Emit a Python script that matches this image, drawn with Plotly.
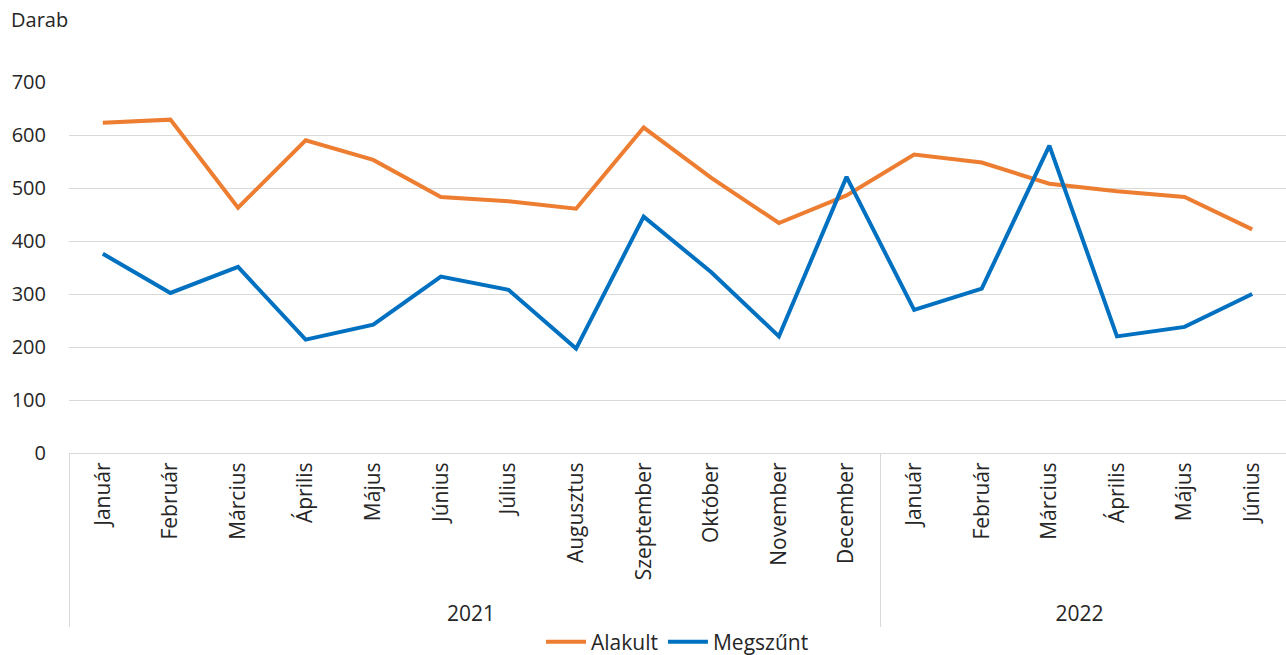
import plotly.graph_objects as go

years = ["2021"] * 12 + ["2022"] * 6
months = ["Január", "Február", "Március", "Április", "Május", "Június", "Július",
          "Augusztus", "Szeptember", "Október", "November", "December",
          "Január", "Február", "Március", "Április", "Május", "Június"]
alakult = [623, 629, 463, 590, 553, 483, 475, 461, 614, 519, 434, 486,
           563, 548, 508, 494, 483, 422]
megszunt = [376, 302, 351, 214, 242, 333, 308, 197, 446, 341, 220, 521,
            270, 310, 580, 220, 238, 300]
y_ticks = [0, 100, 200, 300, 400, 500, 600, 700]

FONT = "Open Sans"
TXT = "#262626"
FS = 20

W, H = 1286, 655
ML, MR, MT, MB = 69, 0, 82, 202

fig = go.Figure()
fig.add_trace(go.Scatter(x=[years, months], y=alakult, name="Alakult", mode="lines",
                         line=dict(color="#ED7D31", width=4)))
fig.add_trace(go.Scatter(x=[years, months], y=megszunt, name="Megszűnt", mode="lines",
                         line=dict(color="#0070C0", width=4)))

fig.update_layout(
    width=W, height=H,
    margin=dict(l=ML, r=MR, t=MT, b=MB, pad=0, autoexpand=False),
    paper_bgcolor="white", plot_bgcolor="white",
    font=dict(family=FONT, size=FS, color=TXT),
    showlegend=True,
    legend=dict(orientation="h", x=0.5, xanchor="center", yref="container",
                y=1 - 642 / H, yanchor="middle", font=dict(size=21, color=TXT),
                itemwidth=40, tracegroupgap=0),
    xaxis=dict(type="multicategory", tickangle=-90, showgrid=False,
               range=[-0.5, len(months) - 0.5], automargin=False,
               showline=True, linecolor="#D9D9D9", linewidth=1,
               showdividers=True, dividercolor="#D9D9D9", dividerwidth=1,
               ticks="outside", ticklen=4, tickcolor="rgba(0,0,0,0)",
               tickfont=dict(size=21, color=TXT)),
    yaxis=dict(range=[0, 700], tickvals=y_ticks, showgrid=True, gridcolor="#D9D9D9",
               gridwidth=1, zeroline=False, showline=False, ticks="", automargin=False,
               tickfont=dict(size=FS, color=TXT), ticklabelstandoff=22),
    annotations=[dict(text="Darab", xref="paper", yref="paper",
                      x=(9 - ML) / (W - ML - MR), y=1 + (MT - 19) / (H - MT - MB),
                      xanchor="left", yanchor="middle", showarrow=False,
                      font=dict(size=FS, color=TXT))],
)

fig.write_html("out.html", config={"displayModeBar": False},
               post_script="document.body.style.margin='0';document.body.style.overflow='hidden';")
